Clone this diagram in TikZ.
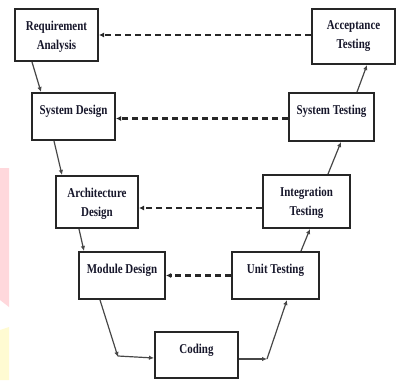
\documentclass[tikz,border=0pt]{standalone}
\usepackage{fontspec}
\usetikzlibrary{arrows.meta}
\newfontfamily\boxfont{Liberation Serif}[FakeStretch=0.81]
\definecolor{inkc}{HTML}{16162A}
\definecolor{edgec}{HTML}{262626}
\definecolor{wmpink}{HTML}{FFD8DC}
\definecolor{wmyellow}{HTML}{FFFBD2}
\tikzset{
  stagebox/.style={draw=edgec, line width=2pt, rectangle, inner sep=0pt},
  stagetext/.style={anchor=north, yshift=-12.5pt, inner sep=0pt, align=center,
    text=inkc, font=\boxfont\bfseries\fontsize{13.5}{19}\selectfont},
  flow/.style={draw=edgec!85, line width=1.2pt, -{Latex[length=5pt,width=4.5pt]}},
  verify/.style={draw=edgec, line width=2.5pt, dash pattern=on 6pt off 4pt,
    -{Latex[length=5pt,width=5pt]}}
}
\begin{document}
\begin{tikzpicture}[x=1pt, y=-1pt]
  \useasboundingbox (0,0) rectangle (396,380);
  % coloured strips at the left edge
  \fill[wmpink] (0,168) -- (9,168) -- (9,307) -- (0,300) -- cycle;
  \fill[wmyellow] (0,330) -- (9,327) -- (9,380) -- (0,380) -- cycle;

  % left arm: design stages
  \node[stagebox, minimum width=83pt, minimum height=52pt,
    label={[stagetext]north:Requirement\\Analysis}] (req) at (56.5,35) {};
  \node[stagebox, minimum width=83pt, minimum height=47pt,
    label={[stagetext]north:System Design}] (sd) at (73.5,116.5) {};
  \node[stagebox, minimum width=82pt, minimum height=52pt,
    label={[stagetext]north:Architecture\\Design}] (ad) at (97,202) {};
  \node[stagebox, minimum width=86pt, minimum height=47pt,
    label={[stagetext]north:Module Design}] (md) at (122,275.5) {};
  % bottom
  \node[stagebox, minimum width=83pt, minimum height=46pt,
    label={[stagetext]north:Coding}] (cod) at (196.5,355) {};
  % right arm: testing stages
  \node[stagebox, minimum width=87pt, minimum height=47pt,
    label={[stagetext]north:Unit Testing}] (ut) at (275.5,275.5) {};
  \node[stagebox, minimum width=87pt, minimum height=53pt,
    label={[stagetext]north:Integration\\Testing}] (it) at (306.5,201.5) {};
  \node[stagebox, minimum width=85pt, minimum height=48pt,
    label={[stagetext]north:System Testing}] (st) at (331.5,117) {};
  \node[stagebox, minimum width=83pt, minimum height=55pt,
    label={[stagetext]north:Acceptance\\Testing}] (at) at (353.5,36.5) {};

  \coordinate (k1) at (118,357);
  \coordinate (k2) at (267,359);

  % solid flow down the left and up the right
  \draw[flow] ([xshift=18pt]req.south west) -- ([xshift=10pt]sd.north west);
  \draw[flow] ([xshift=23pt]sd.south west) -- ([xshift=7pt]ad.north west);
  \draw[flow] ([xshift=24pt]ad.south west) -- ([xshift=6pt]md.north west);
  \draw[flow] ([xshift=22pt]md.south west) -- (k1);
  \draw[flow] ([yshift=1pt]k1) -- (cod.west |- {(0,358)});
  \draw[flow] (cod.east |- k2) -- (k2);
  \draw[flow] (k2) -- ([xshift=56pt]ut.south west);
  \draw[flow] ([xshift=70pt]ut.north west) -- ([xshift=48pt]it.south west);
  \draw[flow] ([xshift=66pt]it.north west) -- ([xshift=53pt]st.south west);
  \draw[flow] ([xshift=69pt]st.north west) -- ([xshift=56pt]at.south west);

  % dashed verification links
  \draw[verify] (at.west |- req.east) -- (req.east);
  \draw[verify] ([yshift=-2pt]st.west |- sd.east) -- ([yshift=-2pt]sd.east);
  \draw[verify] ([yshift=-6pt]it.west |- ad.east) -- ([yshift=-6pt]ad.east);
  \draw[verify] (ut.west) -- (md.east);
\end{tikzpicture}
\end{document}
